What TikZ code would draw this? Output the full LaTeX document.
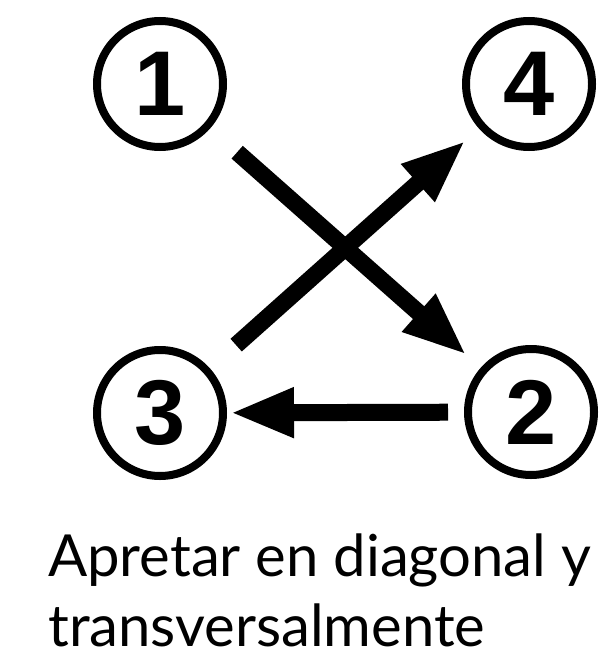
\documentclass[tikz,border=0pt]{standalone}
\usepackage{fontspec}
\setmainfont{Lato}
\newfontfamily\digitfont{Liberation Sans}
\usetikzlibrary{positioning,arrows.meta}

\begin{document}
\begin{tikzpicture}[x=1pt,y=-1pt,
  step circle/.style={draw,line width=8pt,circle,minimum size=126pt,inner sep=0pt,font=\digitfont\bfseries\fontsize{92}{92}\selectfont},
  big arrow/.style={-{Triangle[length=64pt,width=46pt]},line width=17pt}]
  \useasboundingbox (0,0) rectangle (605,655);
  \node[step circle] (n1) at (160,84) {1};
  \node[step circle] (n4) at (529,84) {4};
  \node[step circle] (n3) at (160,413) {3};
  \node[step circle] (n2) at (531,412) {2};
  \draw[big arrow,shorten <=36pt,shorten >=19pt] (n1) -- (n2);
  \draw[big arrow,shorten <=16pt,shorten >=3pt] (n2) -- (n3);
  \draw[big arrow,shorten <=35pt,shorten >=18pt] (n3) -- (n4);
  \node[anchor=base west,align=left,inner sep=0pt,text depth=0pt,font=\fontsize{58}{70}\selectfont] (caption) at (48,646) {Apretar en diagonal y\\transversalmente};
\end{tikzpicture}
\end{document}
